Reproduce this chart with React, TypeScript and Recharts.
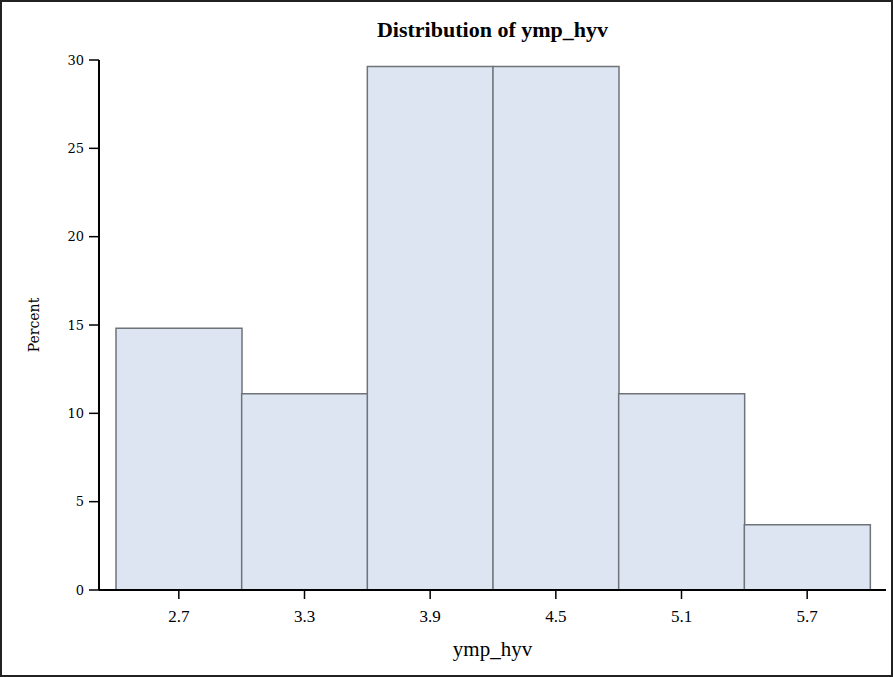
import { Bar, BarChart, XAxis, YAxis } from "recharts";

// Histogram of ymp_hyv, bin midpoints and percent of observations
const binLabels = ["2.7", "3.3", "3.9", "4.5", "5.1", "5.7"];
const percentValues = [14.81, 11.11, 29.63, 29.63, 11.11, 3.7];
const percentTicks = [0, 5, 10, 15, 20, 25, 30];

const FONT = '"Liberation Serif", "Times New Roman", serif';
const Y_FONT = '"DejaVu Serif", serif';
const BAR_FILL = "#dce5f1";
const BAR_STROKE = "#6f747b";

const rows = binLabels.map((bin, i) => ({ bin, percent: percentValues[i] }));

export default function App() {
  return (
    <div
      style={{
        position: "absolute",
        left: 0,
        top: 0,
        width: 893,
        height: 677,
        background: "#fff",
        fontFamily: FONT,
      }}
    >
      <div
        style={{
          position: "absolute",
          left: 0,
          top: 18,
          paddingLeft: 99,
          width: 787,
          textAlign: "center",
          fontWeight: "bold",
          fontSize: 22,
          lineHeight: "24px",
        }}
      >
        Distribution of ymp_hyv
      </div>
      <BarChart
        width={893}
        height={677}
        data={rows}
        margin={{ top: 60, right: 7, bottom: 0, left: 0 }}
        barCategoryGap={0}
        style={{ position: "absolute", left: 0, top: 0 }}
      >
        <XAxis
          dataKey="bin"
          height={87}
          padding={{ left: 17, right: 16 }}
          axisLine={{ stroke: "#000", strokeWidth: 2 }}
          tickLine={{ stroke: "#000", strokeWidth: 1.5 }}
          tickSize={9}
          tickMargin={11}
          tick={{ fill: "#000", fontSize: 17, fontFamily: FONT }}
          label={{
            value: "ymp_hyv",
            position: "insideBottom",
            offset: 21,
            fill: "#000",
            fontSize: 21,
            fontFamily: FONT,
          }}
        />
        <XAxis
          xAxisId="top"
          dataKey="bin"
          orientation="top"
          height={0}
          tick={false}
          tickLine={false}
          axisLine={{ stroke: "#000", strokeWidth: 2 }}
        />
        <YAxis
          width={99}
          domain={[0, 30]}
          ticks={percentTicks}
          axisLine={{ stroke: "#000", strokeWidth: 2 }}
          tickLine={{ stroke: "#000", strokeWidth: 1.5 }}
          tickSize={10}
          tickMargin={5}
          tick={{ fill: "#000", fontSize: 13, fontFamily: Y_FONT }}
          label={{
            value: "Percent",
            angle: -90,
            position: "insideLeft",
            offset: 34,
            fill: "#000",
            fontSize: 14,
            fontFamily: Y_FONT,
            style: { textAnchor: "middle" },
          }}
        />
        <YAxis
          yAxisId="right"
          orientation="right"
          width={0}
          domain={[0, 30]}
          tick={false}
          tickLine={false}
          axisLine={{ stroke: "#000", strokeWidth: 2 }}
        />
        <Bar
          dataKey="percent"
          fill={BAR_FILL}
          stroke={BAR_STROKE}
          strokeWidth={1.5}
          isAnimationActive={false}
        />
      </BarChart>
      <div
        style={{
          position: "absolute",
          left: 0,
          top: 0,
          width: 893,
          height: 677,
          boxSizing: "border-box",
          border: "2px solid #222",
          pointerEvents: "none",
        }}
      />
    </div>
  );
}
